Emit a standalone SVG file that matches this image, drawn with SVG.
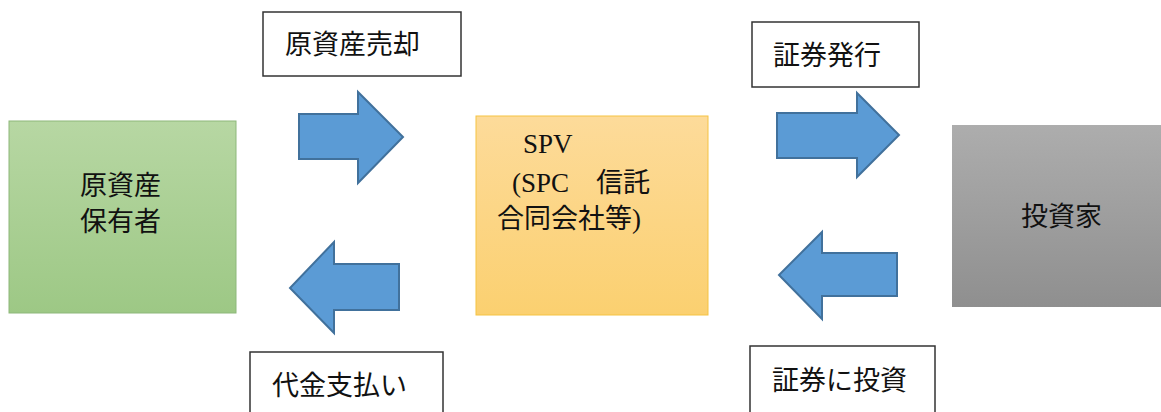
<svg xmlns="http://www.w3.org/2000/svg" width="1161" height="412" viewBox="0 0 1161 412">
<style>
text{font-family:"Liberation Serif","Noto Sans CJK JP",serif;font-size:27px;fill:#111;}
.lbl{fill:#fff;stroke:#333;stroke-width:1.5;}
.arrow{fill:#5b9bd5;stroke:#41719c;stroke-width:2;stroke-linejoin:miter;}
</style>
<defs>
<linearGradient id="gGreen" x1="0" y1="0" x2="0" y2="1"><stop offset="0" stop-color="#b7d7a3"/><stop offset="1" stop-color="#9dc885"/></linearGradient>
<linearGradient id="gOrange" x1="0" y1="0" x2="0" y2="1"><stop offset="0" stop-color="#fddb9a"/><stop offset="1" stop-color="#fbd070"/></linearGradient>
<linearGradient id="gGray" x1="0" y1="0" x2="0" y2="1"><stop offset="0" stop-color="#adadad"/><stop offset="1" stop-color="#8f8f8f"/></linearGradient>
</defs>
<rect width="1161" height="412" fill="#fff"/>
<g id="holder">
<rect x="9" y="121" width="227" height="192" fill="url(#gGreen)" stroke="#8db87a" stroke-width="1"/>
<text x="80" y="195">原資産</text>
<text x="80" y="231">保有者</text>
</g>
<g id="spv">
<rect x="476" y="116" width="232" height="199" fill="url(#gOrange)" stroke="#f5c342" stroke-width="1"/>
<text x="523" y="153">SPV</text>
<text x="512" y="192">(SPC　信託</text>
<text x="497" y="228">合同会社等)</text>
</g>
<g id="investor">
<rect x="952" y="125" width="209" height="182" fill="url(#gGray)"/>
<text x="1021" y="226">投資家</text>
</g>
<g id="label-sale">
<rect class="lbl" x="263" y="12" width="198" height="64"/>
<text x="285" y="54">原資産売却</text>
</g>
<g id="label-issue">
<rect class="lbl" x="752" y="22" width="167" height="65"/>
<text x="773" y="65">証券発行</text>
</g>
<g id="label-pay">
<rect class="lbl" x="250" y="352" width="193" height="70"/>
<text x="272" y="395">代金支払い</text>
</g>
<g id="label-invest">
<rect class="lbl" x="750" y="346" width="185" height="76"/>
<text x="772" y="390">証券に投資</text>
</g>
<g id="connectors">
<polygon class="arrow" points="299,114 358,114 358,92 403,137 358,183 358,159 299,159"/>
<polygon class="arrow" points="399,264 334,264 334,242 290,288 334,333 334,310 399,310"/>
<polygon class="arrow" points="777,113 857,113 857,93 899,135 857,177 857,158 777,158"/>
<polygon class="arrow" points="897,253 822,253 822,232 779,275 822,319 822,296 897,296"/>
</g>
</svg>
